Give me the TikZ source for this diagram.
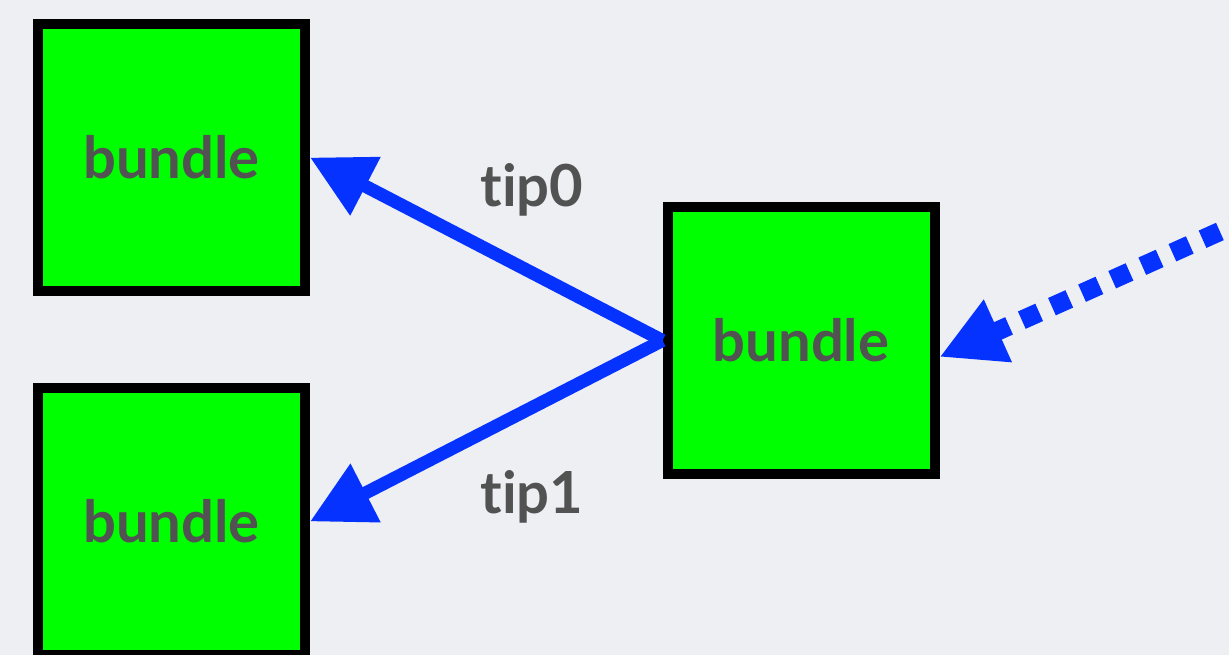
\documentclass[tikz,border=0pt]{standalone}
\usepackage{fontspec}
\setmainfont{Lato}[Ligatures=NoCommon]
\usepackage{tikz}
\usetikzlibrary{arrows.meta}
\definecolor{bggrey}{RGB}{237,239,243}
\definecolor{bundlegreen}{RGB}{0,255,0}
\definecolor{tipblue}{RGB}{5,50,255}
\definecolor{labgrey}{RGB}{82,82,82}
\tikzset{
  bundle/.style={draw=black, line width=0.2cm, fill=bundlegreen,
                 minimum size=5.34cm, inner sep=0pt,
                 font=\fontsize{33}{38}\selectfont\bfseries, text=labgrey},
  tiplab/.style={font=\fontsize{33}{38}\selectfont\bfseries, text=labgrey},
  tipflow/.style={tipblue, line width=0.26cm,
                  -{Triangle[length=1.25cm,width=1.25cm]}},
  refflow/.style={tipblue, line width=0.38cm, dash pattern=on 0.38cm off 0.28cm,
                  -{Triangle[length=1.28cm,width=1.28cm]}},
}
\begin{document}
\begin{tikzpicture}[x=1cm,y=1cm]
  \fill[bggrey] (0,0) rectangle (24.58,13.10);
  \useasboundingbox (0,0) rectangle (24.58,13.10);
  \clip (0,0) rectangle (24.58,13.10);

  \node[bundle] (top)    at (3.43,9.95) {bundle};
  \node[bundle] (bottom) at (3.43,2.67) {bundle};
  \node[bundle] (mid)    at (16.02,6.29) {bundle};

  \draw[tipflow] (mid.west) -- (top.east);
  \draw[tipflow] (mid.west) -- (bottom.east);
  \node[tiplab] (tip0) at (10.64,9.30) {tip0};
  \node[tiplab] (tip1) at (10.64,3.16) {tip1};

  % incoming reference from outside the view
  \coordinate (src) at (25.0,8.74);
  \draw[refflow] (src) -- ([yshift=-0.33cm]mid.east);
\end{tikzpicture}
\end{document}
